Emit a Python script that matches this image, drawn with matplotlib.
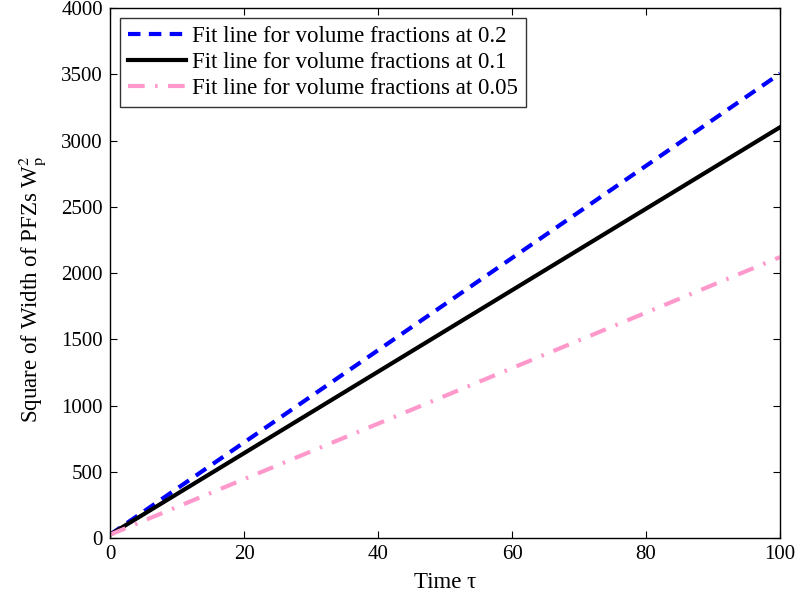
import matplotlib
matplotlib.use("Agg")
import matplotlib.pyplot as plt
import numpy as np

# Data: fitted lines W_p^2 = a*tau + b
time = [0, 100]
fit_02 = [25, 3505]
fit_01 = [25, 3100]
fit_005 = [25, 2120]
labels = ['Fit line for volume fractions at 0.2',
          'Fit line for volume fractions at 0.1',
          'Fit line for volume fractions at 0.05']

plt.rcParams['font.family'] = ['Liberation Serif', 'DejaVu Serif']
plt.rcParams['mathtext.fontset'] = 'stix'

fig = plt.figure(figsize=(8, 5.98), dpi=100)
ax = fig.add_axes([0.1375, 0.1003, 0.8375, 0.8863])

ax.plot(time, fit_02, color='#0000FF', linestyle=(0, (3, 2)), linewidth=3, label=labels[0])
ax.plot(time, fit_01, color='black', linestyle='-', linewidth=3, label=labels[1])
ax.plot(time, fit_005, color='#FF99CC', linestyle=(0, (4, 2.5, 0.6, 2.5)), linewidth=3, label=labels[2])

ax.set_xlim(0, 100)
ax.set_ylim(0, 4000)
ax.set_xticks(np.arange(0, 101, 20))
ax.set_yticks(np.arange(0, 4001, 500))
ax.tick_params(direction='in', top=True, right=True, labelsize=15, length=5, pad=5)
for s in ax.spines.values():
    s.set_linewidth(1)

ax.set_xlabel('Time τ', fontsize=16.5, labelpad=6)
ax.set_ylabel(r'Square of Width of PFZs W$_\mathrm{p}^2$', fontsize=16.5)
ax.yaxis.set_label_coords(-0.093, 0.47)

leg = ax.legend(loc='upper left', fontsize=16.5, frameon=True, fancybox=False,
                edgecolor='black', handlelength=2.5, borderpad=0.35,
                labelspacing=0.2, handletextpad=0.3, borderaxespad=0.45)
leg.get_frame().set_linewidth(1)

fig.savefig('out.png', dpi=100)
